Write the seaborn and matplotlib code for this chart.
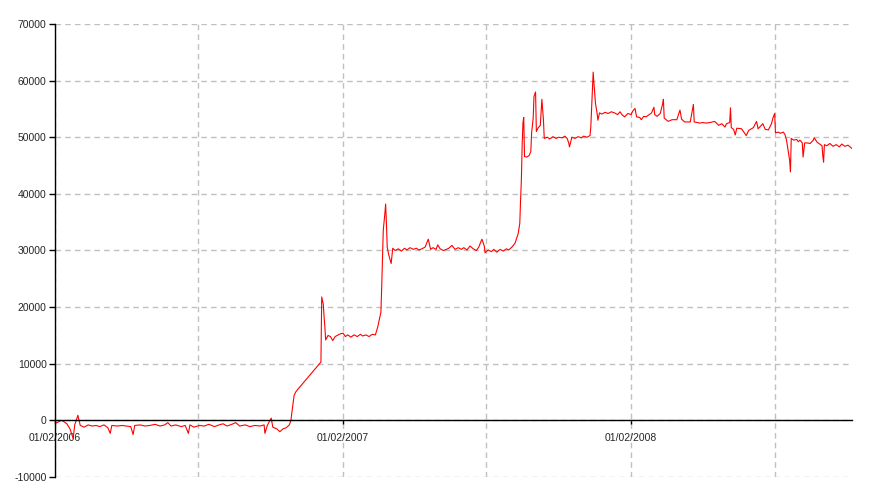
import matplotlib
matplotlib.use("Agg")
import matplotlib.pyplot as plt
import matplotlib.dates as mdates
import matplotlib.ticker as mticker
import seaborn as sns
import pandas as pd

start_date = "2006-02-01"

# days after start date, and values, split by phase of the series
days_flat = [0, 4, 8, 11, 15, 19, 23, 25, 29, 32, 37, 42, 47, 52, 57, 62, 67, 70, 72,
             79, 85, 91, 96, 99, 101, 108, 114, 120, 127, 133, 139, 143, 147, 153,
             160, 165, 169, 171, 176, 183, 189, 195, 202, 208, 213, 218, 224, 229,
             234, 241, 247, 253, 260, 265, 266, 269, 274, 276, 281, 285, 289, 293, 297]
vals_flat = [-500, -300, 0, -200, -600, -1500, -3200, -800, 900, -900, -1200, -800,
             -1000, -900, -1100, -800, -1300, -2300, -900, -1000, -900, -1000, -1100,
             -2500, -900, -800, -1000, -900, -700, -1000, -800, -400, -1000, -800,
             -1100, -900, -2300, -800, -1200, -900, -1000, -700, -1100, -800, -600,
             -1000, -700, -400, -1000, -800, -1100, -900, -1000, -800, -2300, -900,
             400, -1200, -1500, -2000, -1500, -1300, -800]

days_15k = [299, 300, 303, 305, 309, 337, 338, 340, 341, 342, 343, 346, 349, 352,
            355, 359, 362, 365, 368, 371, 375, 379, 383, 387, 390, 394, 398, 402, 406]
vals_15k = [0, 1200, 4400, 5000, 5700, 10300, 21800, 20500, 18300, 16500, 14200,
            15000, 14800, 14100, 14800, 15100, 15300, 15400, 14800, 15100, 14700,
            15100, 14800, 15200, 14900, 15100, 14800, 15200, 15100]

days_30k = [409, 413, 414, 416, 418, 419, 420, 421, 423, 426, 428, 431, 435, 439, 443,
            446, 450, 454, 458, 461, 465, 469, 473, 476, 479, 483, 485, 488, 492, 496,
            499, 503, 507, 511, 515, 518, 522, 526, 530, 534, 537, 541, 544, 545, 549,
            553, 556, 560, 564, 568, 572, 575, 579, 583, 587, 589]
vals_30k = [16500, 19100, 23500, 33600, 36500, 38200, 34800, 30600, 29200, 27700,
            30400, 30000, 30300, 29900, 30400, 30100, 30500, 30200, 30400, 30100,
            30300, 30600, 32000, 30200, 30500, 30200, 31000, 30300, 30000, 30200,
            30400, 30900, 30200, 30500, 30200, 30500, 30100, 30800, 30300, 30000,
            30600, 32000, 30800, 29600, 30100, 29800, 30200, 29700, 30200, 29900,
            30300, 30100, 30600, 31300, 33000, 34800]

days_50k = [590, 591, 592, 593, 594, 595, 598, 601, 603, 604, 606, 607, 609, 610, 612,
            615, 617, 619, 620, 624, 627, 631, 635, 638, 643, 646, 649, 651, 652, 655,
            659, 663, 667, 670, 674, 678]
vals_50k = [38900, 42400, 48600, 52500, 53500, 46600, 46500, 46800, 47500, 50800,
            53400, 57200, 58000, 51000, 51600, 52100, 56700, 53000, 49800, 50000,
            49700, 50100, 49800, 50000, 49900, 50200, 49800, 49000, 48300, 50000,
            49800, 50100, 49900, 50200, 50000, 50300]

days_54k = [679, 681, 682, 683, 685, 687, 688, 690, 693, 697, 701, 705, 709, 713, 716,
            719, 722, 726, 730, 732, 735, 737, 741, 743, 746, 749, 752, 756, 759, 760,
            763, 767, 770, 771, 772, 777, 782, 788, 792, 794, 798, 805, 807, 809, 810,
            814, 817, 821, 825, 830, 836, 841, 845, 849, 851, 855, 856, 857, 860, 862,
            864, 870, 876, 879, 885, 889, 891, 897, 900, 904, 908, 910, 912]
vals_54k = [51800, 58300, 61500, 59500, 55900, 54200, 53000, 54300, 54100, 54400,
            54200, 54500, 54300, 54000, 54500, 53900, 53600, 54200, 54000, 54600,
            55100, 53600, 53500, 53100, 53700, 53600, 53900, 54300, 55300, 54000,
            53700, 54200, 55900, 56700, 53400, 52800, 53100, 53100, 54800, 53200,
            52700, 52700, 54200, 55800, 52700, 52600, 52500, 52600, 52500, 52600,
            52800, 52100, 52400, 51800, 52400, 52600, 55200, 51700, 51400, 50400,
            51600, 51500, 50300, 51200, 51700, 52800, 51500, 52400, 51400, 51300,
            52400, 53500, 54200]

days_48k = [913, 917, 919, 923, 925, 927, 929, 931, 932, 933, 936, 940, 942, 944, 947,
            948, 950, 953, 957, 961, 962, 966, 970, 972, 973, 974, 975, 978, 982, 986,
            990, 994, 997, 1001, 1005, 1009, 1010]
vals_48k = [50800, 50900, 50700, 50900, 50500, 49500, 47700, 45900, 43900, 49800,
            49500, 49600, 49200, 49500, 49000, 46500, 49000, 49000, 48900, 49500,
            49900, 49100, 48700, 48500, 46700, 45600, 48700, 48500, 48900, 48400,
            48700, 48300, 48800, 48400, 48600, 48100, 48000]

days = days_flat + days_15k + days_30k + days_50k + days_54k + days_48k
vals = vals_flat + vals_15k + vals_30k + vals_50k + vals_54k + vals_48k

df = pd.DataFrame({
    "date": pd.Timestamp(start_date) + pd.to_timedelta(days, unit="D"),
    "value": vals,
})

sns.set_style("white")
plt.rcParams["font.family"] = ["Liberation Sans", "DejaVu Sans"]

fig = plt.figure(figsize=(8.95, 5.01), dpi=100)
ax = fig.add_axes([55 / 895, 1 - 477 / 501, (852 - 55) / 895, (477 - 24) / 501])

sns.lineplot(data=df, x="date", y="value", color="#ff0000", linewidth=0.8,
             estimator=None, ax=ax)

ax.set_xlim(pd.Timestamp("2006-02-01"), pd.Timestamp("2008-11-07"))
ax.set_ylim(-10000, 70000)
ax.yaxis.set_major_locator(mticker.MultipleLocator(10000))
ax.yaxis.set_major_formatter(mticker.FuncFormatter(lambda v, p: f"{v:.0f}"))

ax.xaxis.set_major_locator(mdates.MonthLocator(bymonth=2, bymonthday=1))
ax.xaxis.set_minor_locator(mdates.MonthLocator(bymonth=8, bymonthday=1))
ax.xaxis.set_major_formatter(mdates.DateFormatter("%d/%m/%Y"))

ax.grid(True, which="both", color="#c0c0c0", linestyle=(0, (4, 3)), linewidth=1.0)
ax.set_axisbelow(True)

for side in ["top", "right"]:
    ax.spines[side].set_visible(False)
ax.spines["bottom"].set_position(("data", 0))
for side in ["left", "bottom"]:
    ax.spines[side].set_color("black")
    ax.spines[side].set_linewidth(1.0)
    ax.spines[side].set_zorder(3)

ax.tick_params(axis="y", which="major", length=4, width=1, color="black",
               labelsize=7.5, pad=2, left=True)
ax.tick_params(axis="x", which="major", length=3, width=1, color="black",
               labelsize=7.5, pad=6, bottom=True)
ax.tick_params(axis="x", which="minor", length=0)

ax.set_xlabel("")
ax.set_ylabel("")

fig.savefig("out.png", dpi=100)
